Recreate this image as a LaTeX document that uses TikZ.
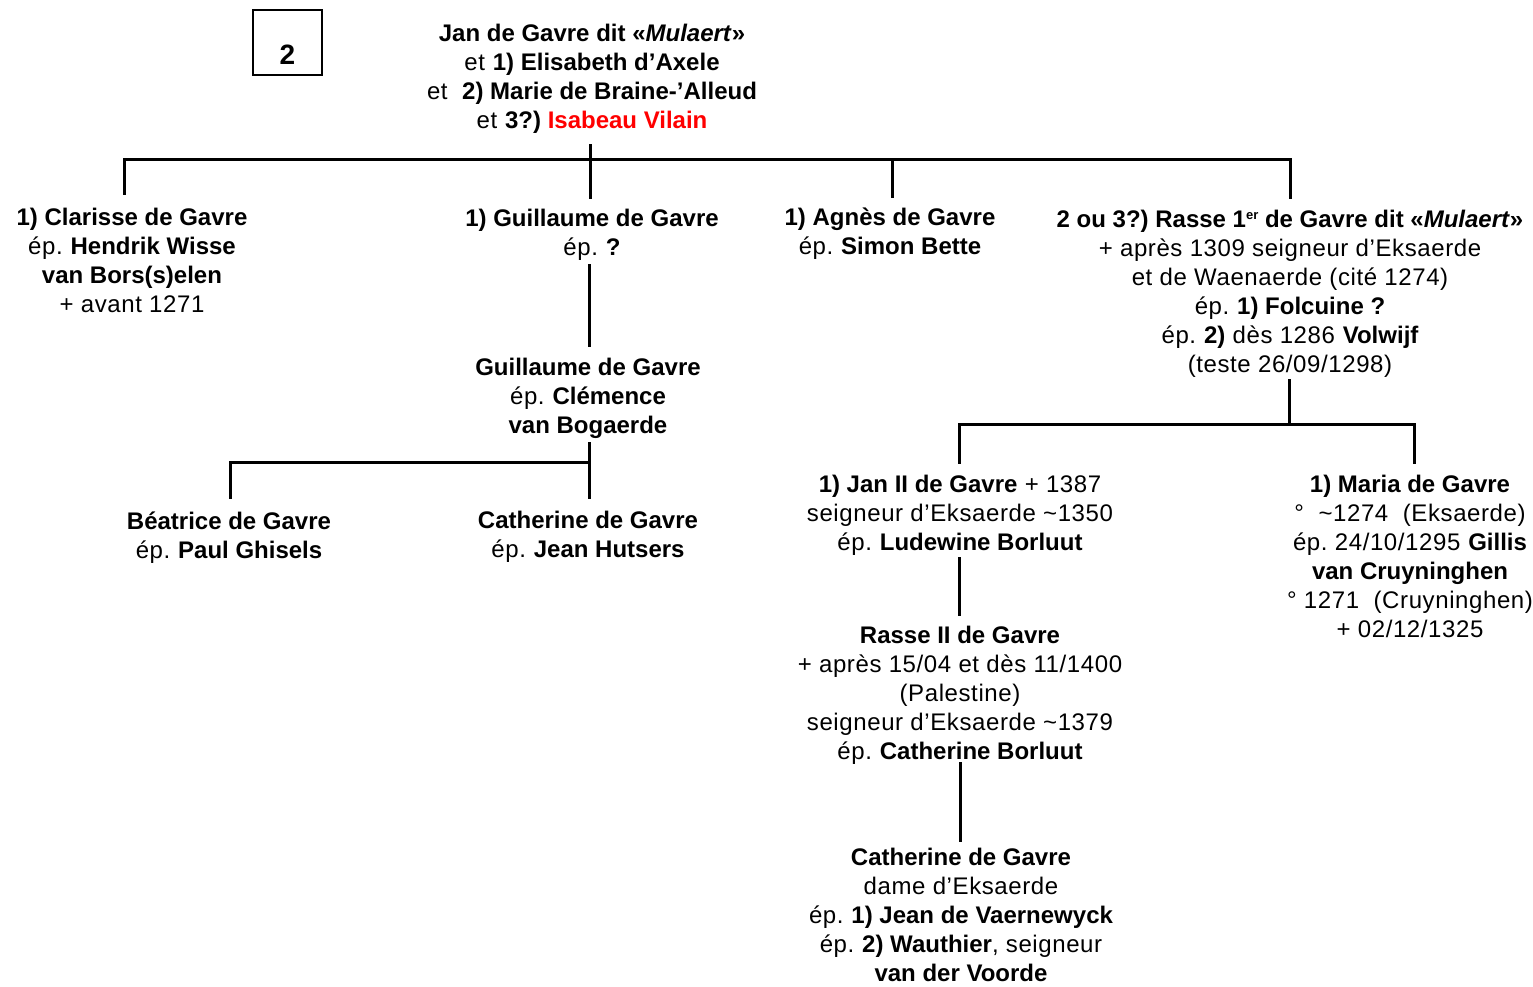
\documentclass[tikz,border=0pt]{standalone}
\usepackage{fontspec}
\setmainfont{Liberation Sans}[UprightFeatures={LetterSpace=2.5}]
\frenchspacing
\newcommand{\supr}[1]{\raisebox{7.5pt}{\fontsize{13}{13}\selectfont #1}}
\begin{document}
\begin{tikzpicture}[x=1pt,y=-1pt,
  person/.style={align=center,inner sep=0pt,anchor=base,font=\fontsize{24}{29}\selectfont\frenchspacing},
  link/.style={line width=3pt,line cap=rect},
  numbox/.style={draw,line width=2.2pt,minimum width=69pt,minimum height=65pt,inner sep=0pt,
     text height=43pt,text depth=0pt,font=\fontsize{28}{30}\selectfont\bfseries}]
\useasboundingbox (0,0) rectangle (1533,986);

\node[numbox] (num) at (287.5,42.5) {2};

% anchor = baseline of the last line
\node[person] (top) at (592,128) {\textbf{Jan de Gavre dit «\textit{Mulaert}»}\\
et \textbf{1) Elisabeth d’Axele}\\
et\ \ \textbf{2) Marie de Braine-’Alleud}\\
et \textbf{3?) \textcolor{red}{Isabeau Vilain}}};

\node[person] (clarisse) at (132,312) {\textbf{1) Clarisse de Gavre}\\
ép. \textbf{Hendrik Wisse}\\
\textbf{van Bors(s)elen}\\
+ avant 1271};

\node[person] (guil1) at (592,255) {\textbf{1) Guillaume de Gavre}\\
ép. \textbf{?}};

\node[person] (guil2) at (588,433) {\textbf{Guillaume de Gavre}\\
ép. \textbf{Clémence}\\
\textbf{van Bogaerde}};

\node[person] (beatrice) at (229,558) {\textbf{Béatrice de Gavre}\\
ép. \textbf{Paul Ghisels}};

\node[person] (cath1) at (588,557) {\textbf{Catherine de Gavre}\\
ép. \textbf{Jean Hutsers}};

\node[person] (agnes) at (890,254) {\textbf{1) Agnès de Gavre}\\
ép. \textbf{Simon Bette}};

\node[person] (rasse) at (1290,372) {\textbf{2 ou 3?) Rasse 1\supr{er} de Gavre dit «\textit{Mulaert}»}\\
+ après 1309 seigneur d’Eksaerde\\
et de Waenaerde (cité 1274)\\
ép. \textbf{1) Folcuine ?}\\
ép. \textbf{2)} dès 1286 \textbf{Volwijf}\\
(teste 26/09/1298)};

\node[person] (jan2) at (960,550) {\textbf{1) Jan II de Gavre} + 1387\\
seigneur d’Eksaerde \textasciitilde1350\\
ép. \textbf{Ludewine Borluut}};

\node[person] (maria) at (1410,637) {\textbf{1) Maria de Gavre}\\
°\ \ \textasciitilde1274\ \ (Eksaerde)\\
ép. 24/10/1295 \textbf{Gillis}\\
\textbf{van Cruyninghen}\\
°\ 1271\ \ (Cruyninghen)\\
+ 02/12/1325};

\node[person] (rasse2) at (960,759) {\textbf{Rasse II de Gavre}\\
+ après 15/04 et dès 11/1400\\
(Palestine)\\
seigneur d’Eksaerde \textasciitilde1379\\
ép. \textbf{Catherine Borluut}};

\node[person] (cath2) at (961,981) {\textbf{Catherine de Gavre}\\
dame d’Eksaerde\\
ép. \textbf{1) Jean de Vaernewyck}\\
ép. \textbf{2) Wauthier}, seigneur\\
\textbf{van der Voorde}};

% connector end points
\coordinate (topOut) at (590,145);
\coordinate (busTop) at (590,159);
\coordinate (busL) at (124,159);
\coordinate (busR) at (1290,159);
\coordinate (inClarisse) at (124,193);
\coordinate (inGuil1) at (590,197);
\coordinate (busAgnes) at (892,159);
\coordinate (inAgnes) at (892,196);
\coordinate (inRasse) at (1290,197);

\coordinate (guil1Out) at (589,265);
\coordinate (inGuil2) at (589,345);

\coordinate (guil2Out) at (589,443);
\coordinate (busG) at (589,462);
\coordinate (busGL) at (230,462);
\coordinate (inBeatrice) at (230,497);
\coordinate (inCath1) at (589,497);

\coordinate (rasseOut) at (1289,380);
\coordinate (busRa) at (1289,424);
\coordinate (busRaL) at (959,424);
\coordinate (busRaR) at (1414,424);
\coordinate (inJan2) at (959,462);
\coordinate (inMaria) at (1414,462);

\coordinate (jan2Out) at (959,558);
\coordinate (inRasse2) at (959,614);
\coordinate (rasse2Out) at (960,763);
\coordinate (inCath2) at (960,840);

\draw[link] (topOut) -- (busTop);
\draw[link] (inClarisse) -- (busL) -- (busR) -- (inRasse);
\draw[link] (busTop) -- (inGuil1);
\draw[link] (busAgnes) -- (inAgnes);

\draw[link] (guil1Out) -- (inGuil2);
\draw[link] (guil2Out) -- (inCath1);
\draw[link] (inBeatrice) -- (busGL) -- (busG);

\draw[link] (rasseOut) -- (busRa);
\draw[link] (inJan2) -- (busRaL) -- (busRaR) -- (inMaria);

\draw[link] (jan2Out) -- (inRasse2);
\draw[link] (rasse2Out) -- (inCath2);
\end{tikzpicture}
\end{document}
